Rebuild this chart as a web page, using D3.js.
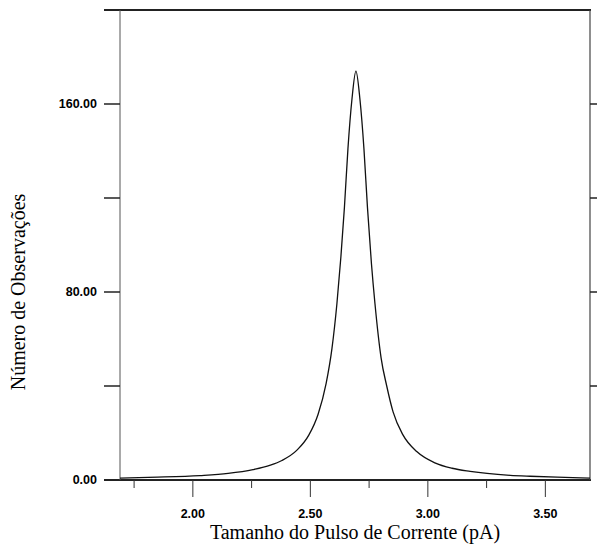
<!DOCTYPE html>
<html><head><meta charset="utf-8">
<script src="https://cdn.jsdelivr.net/npm/d3@7"></script>
<style>body{margin:0;background:#fff}svg{display:block}</style>
</head><body>
<svg id="c" width="597" height="546"></svg>
<script>
const pulseSize = [1.69,1.85,2.03,2.15,2.256,2.33,2.379,2.443,2.494,2.533,2.567,2.592,2.613,2.630,2.645,2.660,2.677,2.694,2.711,2.728,2.743,2.760,2.775,2.801,2.825,2.852,2.894,2.954,3.030,3.103,3.18,3.252,3.35,3.435,3.55,3.69];
const observations = [0.8,1.2,1.9,2.8,4.4,6.3,8.3,12.7,19.2,28,41,56,75,95,116,141,162,174,162,141,116,92,75,52,40,29,19.2,12,7.3,5.0,3.7,2.8,2.0,1.6,1.2,0.8];
const xTicksMajor = [2.0,2.5,3.0,3.5];
const xTicksMinor = [1.75,2.25,2.75,3.25];
const yTicksLabeled = [0,80,160];
const yTicksAll = [40,80,120,160];

const svg = d3.select("#c");
const L=120,R=590,T=10,B=480;
const x = d3.scaleLinear().domain([1.69,3.69]).range([L,R]);
const y = d3.scaleLinear().domain([0,200]).range([B,T]);

// frame
svg.append("line").attr("x1",104).attr("x2",591).attr("y1",T).attr("y2",T).attr("stroke","#222").attr("stroke-width",2);
svg.append("line").attr("x1",104).attr("x2",591).attr("y1",B).attr("y2",B).attr("stroke","#222").attr("stroke-width",2);
svg.append("line").attr("x1",L).attr("x2",L).attr("y1",T).attr("y2",B).attr("stroke","#555").attr("stroke-width",1);
svg.append("line").attr("x1",R).attr("x2",R).attr("y1",T).attr("y2",B).attr("stroke","#444").attr("stroke-width",1.2);

// y ticks
yTicksAll.forEach(v=>{
  svg.append("line").attr("x1",104).attr("x2",L).attr("y1",y(v)).attr("y2",y(v)).attr("stroke","#222").attr("stroke-width",1.5);
  svg.append("line").attr("x1",R).attr("x2",597).attr("y1",y(v)).attr("y2",y(v)).attr("stroke","#222").attr("stroke-width",1.5);
});
yTicksLabeled.forEach(v=>{
  svg.append("text").attr("x",97).attr("y",y(v)).attr("dy","0.35em").attr("text-anchor","end")
    .attr("font-family","Liberation Sans, Arial, sans-serif").attr("font-weight","bold").attr("font-size",12.5)
    .text(d3.format(".2f")(v));
});
// x ticks
xTicksMajor.forEach(v=>{
  svg.append("line").attr("x1",x(v)).attr("x2",x(v)).attr("y1",B).attr("y2",497).attr("stroke","#333").attr("stroke-width",1);
  svg.append("text").attr("x",x(v)).attr("y",518).attr("text-anchor","middle")
    .attr("font-family","Liberation Sans, Arial, sans-serif").attr("font-weight","bold").attr("font-size",12.5)
    .text(d3.format(".2f")(v));
});
xTicksMinor.forEach(v=>{
  svg.append("line").attr("x1",x(v)).attr("x2",x(v)).attr("y1",B).attr("y2",488).attr("stroke","#333").attr("stroke-width",1);
});

// curve
const line = d3.line().x((d,i)=>x(pulseSize[i])).y(d=>y(d)).curve(d3.curveMonotoneX);
svg.append("path").attr("d",line(observations)).attr("fill","none").attr("stroke","#111").attr("stroke-width",1.3);

// titles
svg.append("text").attr("x",355).attr("y",539).attr("text-anchor","middle")
  .attr("font-family","Liberation Serif, Times New Roman, serif").attr("font-size",20).text("Tamanho do Pulso de Corrente (pA)");
svg.append("text").attr("transform","translate(25,292) rotate(-90)").attr("text-anchor","middle")
  .attr("font-family","Liberation Serif, Times New Roman, serif").attr("font-size",20).text("Número de Observações");
</script>
</body></html>
